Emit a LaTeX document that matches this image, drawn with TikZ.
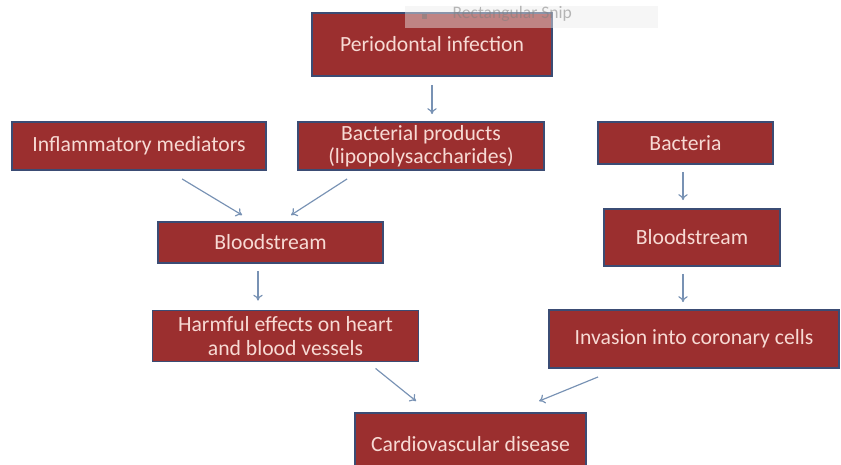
\documentclass[tikz,border=0pt]{standalone}
\usepackage{xcolor}
\usepackage{fontspec}
\setmainfont{Carlito}
\usetikzlibrary{arrows.meta}
\definecolor{boxred}{HTML}{9B2F2F}
\definecolor{boxline}{HTML}{3B4C74}
\definecolor{boxtext}{HTML}{F7DAD4}
\definecolor{arrowblue}{HTML}{7892B4}
\tikzset{
  stage/.style={rectangle, draw=boxline, line width=1.6pt, fill=boxred,
    text=boxtext, font=\fontsize{18.5}{20}\selectfont, align=center,
    inner sep=0pt},
  flow/.style={-{To[length=5pt, width=8pt]}, draw=arrowblue, line width=1pt}
}

\begin{document}
\begin{tikzpicture}[x=0.03cm, y=-0.03cm]
    \useasboundingbox (0,0) rectangle (841,464);
    % boxes
    \node[stage, minimum width=240*0.03cm, minimum height=63*0.03cm] (perio) at (432,44.5) {Periodontal infection};
    \node[stage, minimum width=254*0.03cm, minimum height=48*0.03cm] (inflam) at (139,146) {Inflammatory mediators};
    \node[stage, minimum width=246*0.03cm, minimum height=48*0.03cm] (bactprod) at (421,146) {Bacterial products\\(lipopolysaccharides)};
    \node[stage, minimum width=175*0.03cm, minimum height=42*0.03cm] (bacteria) at (685.5,143) {Bacteria};
    \node[stage, minimum width=225*0.03cm, minimum height=41*0.03cm] (bloodl) at (270.5,242.5) {Bloodstream};
    \node[stage, minimum width=176*0.03cm, minimum height=57*0.03cm] (bloodr) at (692,237.5) {Bloodstream};
    \node[stage, minimum width=266*0.03cm, minimum height=51*0.03cm] (harm) at (285.5,336) {Harmful effects on heart\\and blood vessels};
    \node[stage, minimum width=290*0.03cm, minimum height=58*0.03cm] (invasion) at (694,339) {Invasion into coronary cells};
    \node[stage, minimum width=231*0.03cm, minimum height=62*0.03cm] (cardio) at (470.5,444) {Cardiovascular disease};
    % faint screen-capture leftover over the top box
    \fill[gray!15, fill opacity=0.45] (405,6) rectangle (658,28);
    \node[text=gray, text opacity=0.55, font=\fontsize{15}{16}\selectfont, anchor=west] (snip) at (418,14) {\rule{4pt}{4pt}\hspace{22pt}Rectangular Snip};
    % arrows
    \draw[flow] ([shift={(0,8)}]perio.south) -- ([shift={(11,-7)}]bactprod.north);
    \draw[flow] ([shift={(171,8)}]inflam.south west) -- ([shift={(85,-6)}]bloodl.north west);
    \draw[flow] ([shift={(50,8)}]bactprod.south west) -- ([shift={(134,-6)}]bloodl.north west);
    \draw[flow] ([shift={(-12.5,7)}]bloodl.south) -- ([shift={(-27.5,-9)}]harm.north);
    \draw[flow] ([shift={(-2.5,7)}]bacteria.south) -- ([shift={(-9,-8)}]bloodr.north);
    \draw[flow] ([shift={(-9,7)}]bloodr.south) -- ([shift={(-11,-7)}]invasion.north);
    \draw[flow] ([shift={(224,6)}]harm.south west) -- ([shift={(62,-11)}]cardio.north west);
    \draw[flow] ([shift={(50,8)}]invasion.south west) -- ([shift={(185,-11)}]cardio.north west);
\end{tikzpicture}
\end{document}
